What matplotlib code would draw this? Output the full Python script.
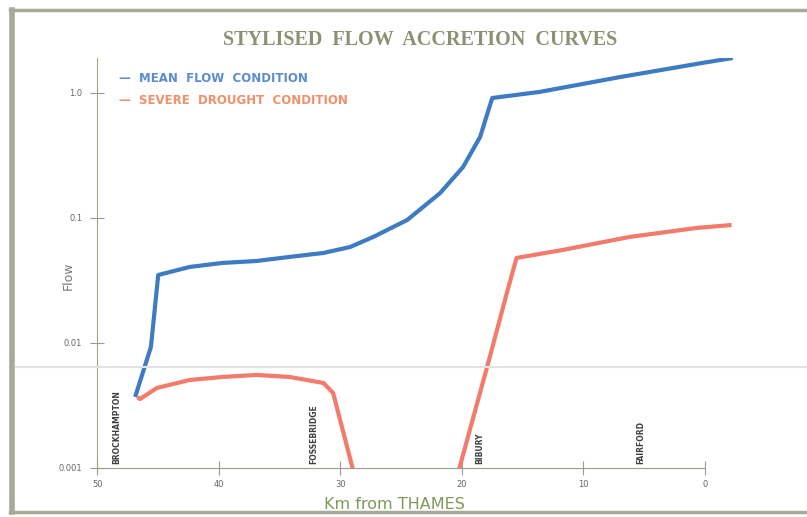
import numpy as np
import matplotlib
matplotlib.use('Agg')
import matplotlib.pyplot as plt
from matplotlib.lines import Line2D

# distance upstream from the Thames (km) and flow
km_mean = [46.9, 45.6, 45.0, 42.4, 39.7, 36.9, 34.2, 31.4, 29.2, 27.3, 24.5,
           21.8, 19.9, 18.5, 17.5, 13.6, 7.0, 0.2, -2.3]
flow_mean = [0.0037, 0.0093, 0.035, 0.0406, 0.0437, 0.0453, 0.0488, 0.0525,
             0.0586, 0.0705, 0.0964, 0.158, 0.256, 0.445, 0.912, 1.02, 1.34,
             1.74, 1.905]

# drought curve: two reaches separated by a dry stretch (nan)
km_drought = [46.7, 46.5, 45.1, 42.4, 39.7, 36.9, 34.2, 31.4, 30.6, 29.0, 28.7,
              np.nan,
              20.4, 20.2, 17.7, 16.3, 15.5, 11.7, 6.2, 0.7, -2.2]
flow_drought = [0.0037, 0.00356, 0.00437, 0.00506, 0.00535, 0.00555, 0.00535,
                0.00479, 0.00398, 0.001, 0.0007,
                np.nan,
                0.0007, 0.001, 0.00773, 0.0251, 0.0479, 0.0555, 0.0705,
                0.0832, 0.0879]

places = ['BROCKHAMPTON', 'FOSSEBRIDGE', 'BIBURY', 'FAIRFORD']
place_km = [48.4, 32.2, 18.5, 5.3]

x_ticks = [50, 40, 30, 20, 10, 0]
y_ticks = [0.001, 0.01, 0.1, 1.0]
y_labels = ['0.001', '0.01', '0.1', '1.0']

fig = plt.figure(figsize=(8.07, 5.17), dpi=100)
ax = fig.add_axes([0.1208, 0.0948, 0.911 - 0.1208, 0.7930])

ax.plot(km_mean, flow_mean, color='#3d7cc2', lw=3.0, solid_capstyle='butt',
        solid_joinstyle='round', zorder=3)
ax.plot(km_drought, flow_drought, color='#f27b6c', lw=3.0,
        solid_capstyle='butt', solid_joinstyle='round', zorder=3)

ax.set_yscale('log')
ax.set_xlim(50, -2.5)
ax.set_ylim(0.001, 1.905)

for s in ['top', 'right']:
    ax.spines[s].set_visible(False)
ax.spines['left'].set_color('#a4a47c')
ax.spines['bottom'].set_color('#9a9a90')
ax.spines['bottom'].set_bounds(0, 50)

ax.set_xticks(x_ticks)
ax.set_xticklabels([str(t) for t in x_ticks])
ax.set_yticks(y_ticks)
ax.set_yticklabels(y_labels)
ax.minorticks_off()
ax.tick_params(axis='x', direction='inout', length=10, color='#9a9a90',
               labelsize=6, labelcolor='#666666', pad=4)
ax.tick_params(axis='y', direction='inout', length=10, color='#9a9a90',
               labelsize=6, labelcolor='#666666', pad=6)

ax.set_xlabel('Km from THAMES', fontsize=11.5, color='#7d9a5a')
ax.xaxis.set_label_coords(0.466, -0.07)
ax.set_ylabel('Flow', fontsize=9, color='#777777')
ax.yaxis.set_label_coords(-0.035, 0.47)

for name, k in zip(places, place_km):
    ax.text(k, 0.00107, name, rotation=90, ha='center', va='bottom',
            fontsize=5.5, fontweight='bold', color='#404040')

fig.text(0.52, 0.922, 'STYLISED  FLOW  ACCRETION  CURVES', ha='center',
         va='center', fontsize=14.5, fontweight='bold',
         family='Liberation Serif', color='#8d9173')
fig.text(0.148, 0.849, '\u2014  MEAN  FLOW  CONDITION', ha='left',
         va='center', fontsize=8.5, fontweight='bold', color='#5b8bd0')
fig.text(0.148, 0.806, '\u2014  SEVERE  DROUGHT  CONDITION', ha='left',
         va='center', fontsize=8.5, fontweight='bold', color='#f0906a')

# scan frame and the faint scan streak
fig.lines.append(Line2D([0.012, 1.0], [0.981, 0.981], color='#a8aa98',
                        lw=2.5, transform=fig.transFigure))
fig.lines.append(Line2D([0.015, 0.015], [0.01, 0.981], color='#a8aa98',
                        lw=4, transform=fig.transFigure))
fig.lines.append(Line2D([0.012, 1.0], [0.01, 0.01], color='#a8aa98',
                        lw=2.5, transform=fig.transFigure))
fig.lines.append(Line2D([0.02, 1.0], [0.29, 0.29], color='#e2e2e2',
                        lw=1.5, transform=fig.transFigure, zorder=0))

fig.savefig('out.png', dpi=100)
